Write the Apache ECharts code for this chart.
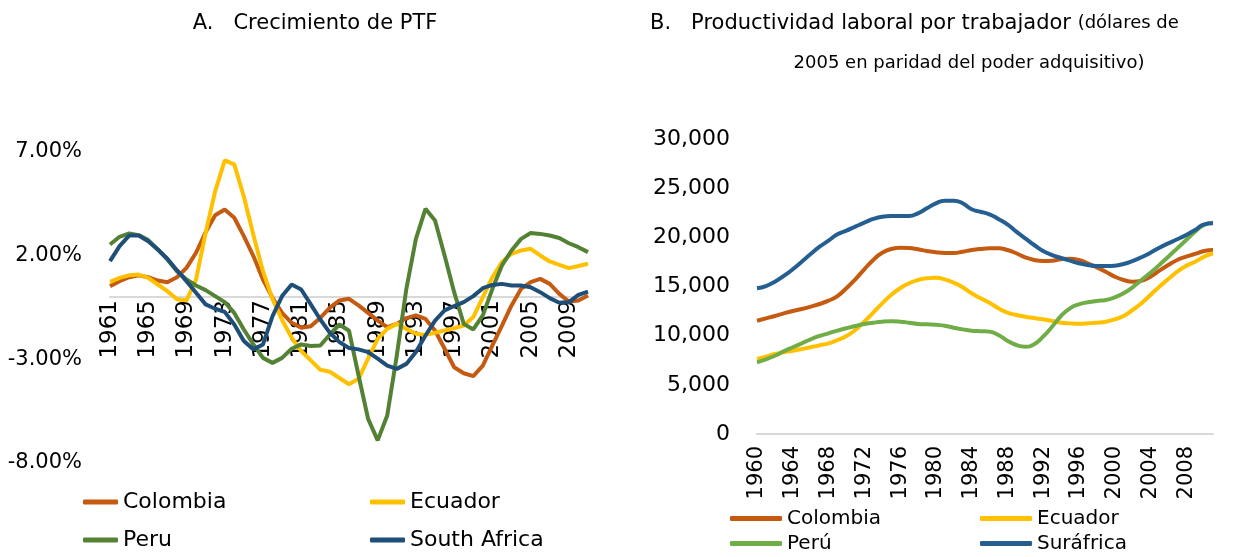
<!DOCTYPE html>
<html>
<head>
<meta charset="utf-8">
<script src="https://cdn.jsdelivr.net/npm/echarts@6/dist/echarts.min.js"></script>
<style>
  html, body { margin: 0; padding: 0; background: #fff; }
  #main { width: 1247px; height: 557px; }
</style>
</head>
<body>
<div id="main"></div>
<script>
// A. Crecimiento de PTF (%), 1961-2011
var yearsA = [];
for (var y = 1961; y <= 2011; y++) yearsA.push(String(y));
var colombiaA = [0.53, 0.77, 0.96, 1.05, 0.96, 0.80, 0.72, 0.96, 1.41, 2.14,
  3.13, 3.95, 4.23, 3.83, 2.94, 1.98, 0.85, -0.03, -0.76, -1.24,
  -1.48, -1.40, -1.00, -0.51, -0.16, -0.08, -0.40, -0.76, -1.13, -1.45,
  -1.29, -1.01, -0.88, -1.05, -1.61, -2.49, -3.38, -3.67, -3.81, -3.30,
  -2.33, -1.37, -0.40, 0.40, 0.72, 0.88, 0.64, 0.16, -0.21, -0.16, 0.08];
var ecuadorA = [0.74, 0.93, 1.05, 1.09, 0.93, 0.61, 0.29, -0.10, -0.16, 0.85,
  3.10, 5.10, 6.60, 6.40, 4.85, 3.00, 1.25, -0.10, -1.10, -1.95,
  -2.60, -3.05, -3.50, -3.60, -3.90, -4.20, -3.94, -2.97, -2.01, -1.53,
  -1.29, -1.53, -1.77, -1.82, -1.72, -1.61, -1.50, -1.37, -0.96, 0.00,
  0.96, 1.69, 2.09, 2.25, 2.33, 2.01, 1.72, 1.56, 1.40, 1.50, 1.61];
var peruA = [2.54, 2.91, 3.07, 2.99, 2.75, 2.30, 1.82, 1.25, 0.85, 0.56,
  0.34, 0.05, -0.24, -0.76, -1.56, -2.28, -2.93, -3.17, -2.93, -2.49,
  -2.28, -2.36, -2.33, -1.80, -1.32, -1.62, -3.78, -5.87, -6.91, -5.71,
  -2.81, 0.40, 2.81, 4.26, 3.70, 2.01, 0.24, -1.29, -1.56, -0.88,
  0.40, 1.53, 2.25, 2.81, 3.09, 3.05, 2.97, 2.85, 2.60, 2.41, 2.17];
var southAfricaA = [1.74, 2.46, 2.97, 2.97, 2.70, 2.30, 1.85, 1.30, 0.77, 0.21,
  -0.35, -0.56, -0.71, -1.32, -2.12, -2.52, -2.28, -0.92, 0.05, 0.61,
  0.37, -0.35, -1.08, -1.72, -2.17, -2.45, -2.52, -2.65, -2.97, -3.30,
  -3.46, -3.22, -2.65, -1.85, -1.13, -0.64, -0.43, -0.24, 0.05, 0.43,
  0.59, 0.64, 0.56, 0.56, 0.48, 0.24, -0.05, -0.27, -0.24, 0.11, 0.27];

// B. Productividad laboral por trabajador, 1960-2011
var yearsB = [];
for (var y2 = 1960; y2 <= 2011; y2++) yearsB.push(String(y2));
var colombiaB = [11520, 11760, 12000, 12270, 12510, 12710, 12950, 13220, 13560, 14030,
  14820, 15730, 16750, 17700, 18440, 18810, 18950, 18920, 18780, 18610,
  18480, 18410, 18410, 18540, 18710, 18820, 18880, 18880, 18710, 18380,
  17970, 17700, 17590, 17630, 17770, 17830, 17700, 17360, 16950, 16510,
  16000, 15660, 15490, 15590, 16000, 16610, 17190, 17700, 18030, 18310,
  18610, 18710];
var ecuadorB = [7630, 7860, 8140, 8310, 8470, 8650, 8820, 9020, 9220, 9560,
  9970, 10580, 11420, 12340, 13290, 14140, 14820, 15330, 15660, 15830,
  15900, 15730, 15390, 14920, 14310, 13800, 13350, 12780, 12340, 12100,
  11930, 11800, 11660, 11490, 11320, 11250, 11220, 11250, 11320, 11420,
  11660, 12000, 12610, 13290, 14140, 14980, 15760, 16510, 17090, 17520,
  18030, 18380];
var peruB = [7290, 7590, 7960, 8410, 8820, 9220, 9630, 9970, 10240, 10510,
  10750, 10980, 11190, 11320, 11420, 11460, 11420, 11320, 11190, 11150,
  11120, 11010, 10810, 10640, 10510, 10460, 10410, 10070, 9490, 9050,
  8880, 9120, 9900, 10910, 12000, 12780, 13190, 13390, 13530, 13630,
  13900, 14310, 14920, 15660, 16400, 17190, 18030, 18880, 19730, 20580,
  21260, 21490];
var surafricaB = [14820, 15050, 15490, 16070, 16750, 17520, 18300, 19050, 19660, 20310,
  20680, 21090, 21490, 21870, 22100, 22170, 22170, 22170, 22440, 22950,
  23460, 23730, 23730, 23460, 22850, 22600, 22340, 21870, 21320, 20580,
  19900, 19220, 18610, 18200, 17900, 17630, 17360, 17190, 17090, 17090,
  17120, 17290, 17590, 17970, 18440, 18950, 19390, 19800, 20240, 20750,
  21320, 21430];

var FONT = 'DejaVu Sans';
var myChart = echarts.init(document.getElementById('main'));

function lineSeries(name, data, color, xi, smooth) {
    return {
        name: name,
        type: 'line',
        xAxisIndex: xi,
        yAxisIndex: xi,
        data: data,
        smooth: smooth,
        showSymbol: false,
        lineStyle: { color: color, width: 4 },
        itemStyle: { color: color }
    };
}

myChart.setOption({
    animation: false,
    textStyle: { fontFamily: FONT, color: '#000' },
    title: [
        {
            text: 'A.   Crecimiento de PTF',
            left: 310, top: 8, textAlign: 'center',
            textStyle: { fontFamily: FONT, fontSize: 21, fontWeight: 'normal', color: '#000' }
        },
        {
            text: 'B.   Productividad laboral por trabajador {s|(dólares de}',
            left: 645, top: 8,
            textStyle: {
                fontFamily: FONT, fontSize: 21, fontWeight: 'normal', color: '#000',
                rich: { s: { fontFamily: FONT, fontSize: 18, color: '#000' } }
            }
        },
        {
            text: '2005 en paridad del poder adquisitivo)',
            left: 964, top: 49, textAlign: 'center',
            textStyle: { fontFamily: FONT, fontSize: 18, fontWeight: 'normal', color: '#000' }
        }
    ],
    legend: [
        {
            data: ['Colombia', 'Ecuador', 'Peru', 'South Africa'],
            left: 78, top: 478, width: 620,
            itemGap: 0, itemWidth: 35, itemHeight: 5,
            icon: 'roundRect',
            textStyle: { fontFamily: FONT, fontSize: 22, color: '#000', width: 247, lineHeight: 38 }
        },
        {
            data: ['Colombia', 'Ecuador', 'Perú', 'Suráfrica'],
            left: 725, top: 501, width: 520,
            itemGap: 0, itemWidth: 52, itemHeight: 5,
            icon: 'roundRect',
            textStyle: { fontFamily: FONT, fontSize: 20, color: '#000', width: 193, lineHeight: 25 }
        }
    ],
    grid: [
        { left: 110, top: 152, width: 478, height: 311 },
        { left: 757, top: 139, width: 456, height: 295 }
    ],
    xAxis: [
        {
            type: 'category', gridIndex: 0, data: yearsA, boundaryGap: false,
            // axis sits at 0%, 166px above the bottom of the grid
            offset: -166,
            axisLine: { onZero: false, lineStyle: { color: '#d9d9d9', width: 2 } },
            axisTick: { show: false },
            axisLabel: { interval: 3, rotate: 90, margin: 3, fontSize: 23, color: '#000', fontFamily: FONT }
        },
        {
            type: 'category', gridIndex: 1, data: yearsB, boundaryGap: false,
            axisLine: { lineStyle: { color: '#d9d9d9', width: 2 } },
            axisTick: { show: false },
            axisLabel: { interval: 3, rotate: 90, margin: 12, fontSize: 21, color: '#000', fontFamily: FONT }
        }
    ],
    yAxis: [
        {
            type: 'value', gridIndex: 0, min: -8, max: 7, interval: 5,
            splitLine: { show: false }, axisLine: { show: false }, axisTick: { show: false },
            axisLabel: {
                margin: 28, fontSize: 21, color: '#000', fontFamily: FONT,
                formatter: function (v) { return v.toFixed(2) + '%'; }
            }
        },
        {
            type: 'value', gridIndex: 1, min: 0, max: 30000, interval: 5000,
            splitLine: { show: false }, axisLine: { show: false }, axisTick: { show: false },
            axisLabel: {
                margin: 27, fontSize: 22, color: '#000', fontFamily: FONT,
                formatter: function (v) { return v.toLocaleString('en-US'); }
            }
        }
    ],
    series: [
        lineSeries('Colombia', colombiaA, '#C55A11', 0, false),
        lineSeries('Ecuador', ecuadorA, '#FFC000', 0, false),
        lineSeries('Peru', peruA, '#548235', 0, false),
        lineSeries('South Africa', southAfricaA, '#1F4E79', 0, false),
        lineSeries('Colombia', colombiaB, '#C55A11', 1, true),
        lineSeries('Ecuador', ecuadorB, '#FFC000', 1, true),
        lineSeries('Perú', peruB, '#70AD47', 1, true),
        lineSeries('Suráfrica', surafricaB, '#255E91', 1, true)
    ]
});
</script>
</body>
</html>
